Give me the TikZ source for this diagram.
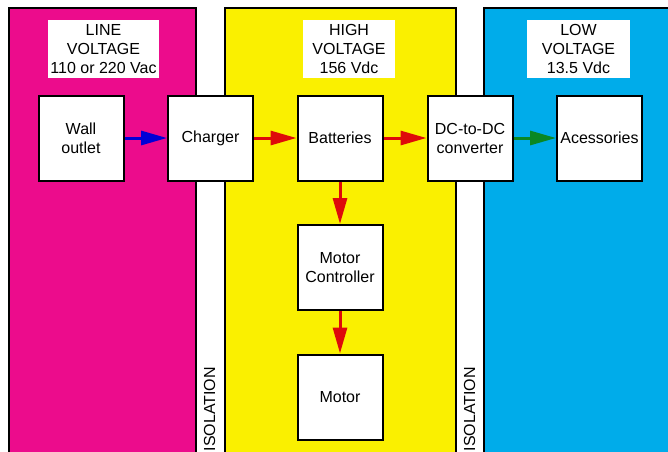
\documentclass[tikz,border=0pt]{standalone}
\usepackage{fontspec}
\setmainfont{Liberation Sans}
\usetikzlibrary{arrows.meta}
\definecolor{pinkc}{RGB}{236,12,140}
\definecolor{yellowc}{RGB}{250,240,0}
\definecolor{bluec}{RGB}{0,172,234}
\definecolor{redarrow}{RGB}{222,10,10}
\definecolor{greenarrow}{RGB}{10,135,35}
\definecolor{bluearrow}{RGB}{0,0,215}
\newcommand{\dfont}{\fontsize{16pt}{19pt}\selectfont}
\begin{document}
\begin{tikzpicture}[x=1pt,y=-1pt,
  region/.style={draw=black, line width=1.5pt},
  box/.style={draw=black, fill=white, line width=2pt, minimum width=85pt, minimum height=85pt, align=center, inner sep=0pt, font=\dfont},
  hdr/.style={fill=white, align=center, inner sep=0pt, minimum height=58pt, font=\dfont},
  iso/.style={rotate=90, anchor=east, inner sep=0pt, font=\dfont},
  conn/.style={line width=3pt, -{Triangle[length=26pt,width=14pt]}}
]
\useasboundingbox (0,0) rectangle (668,451);
\clip (0,0) rectangle (668,451);
\fill[white] (0,0) rectangle (668,451);
% regions
\draw[region, fill=pinkc] (9,8) rectangle (196,470);
\draw[region, fill=yellowc] (225,8) rectangle (456,470);
\draw[region, fill=bluec] (484,8) rectangle (690,470);
% headers
\node[hdr, minimum width=111pt] (hline) at (103.5,49) {LINE\\VOLTAGE\\110 or 220 Vac};
\node[hdr, minimum width=92pt] (hhigh) at (349,49) {HIGH\\VOLTAGE\\156 Vdc};
\node[hdr, minimum width=103pt] (hlow) at (578.5,49) {LOW\\VOLTAGE\\13.5 Vdc};
% isolation labels
\node[iso] (iso1) at (209.7,367) {ISOLATION};
\node[iso] (iso2) at (469.7,367) {ISOLATION};
% boxes
\node[box] (wall) at (81,138) {Wall\\outlet};
\node[box] (charger) at (210.5,138) {Charger};
\node[box] (batt) at (340,138) {Batteries};
\node[box] (dcdc) at (470,138) {DC-to-DC\\converter};
\node[box] (acc) at (599.5,138) {Acessories};
\node[box] (mc) at (340,267.5) {Motor\\Controller};
\node[box] (motor) at (340,397) {Motor};
% connectors
\draw[conn, bluearrow] (wall.east) -- (charger.west);
\draw[conn, redarrow] (charger.east) -- (batt.west);
\draw[conn, redarrow] (batt.east) -- (dcdc.west);
\draw[conn, greenarrow] (dcdc.east) -- (acc.west);
\draw[conn, redarrow] (batt.south) -- (mc.north);
\draw[conn, redarrow] (mc.south) -- (motor.north);
\end{tikzpicture}
\end{document}
